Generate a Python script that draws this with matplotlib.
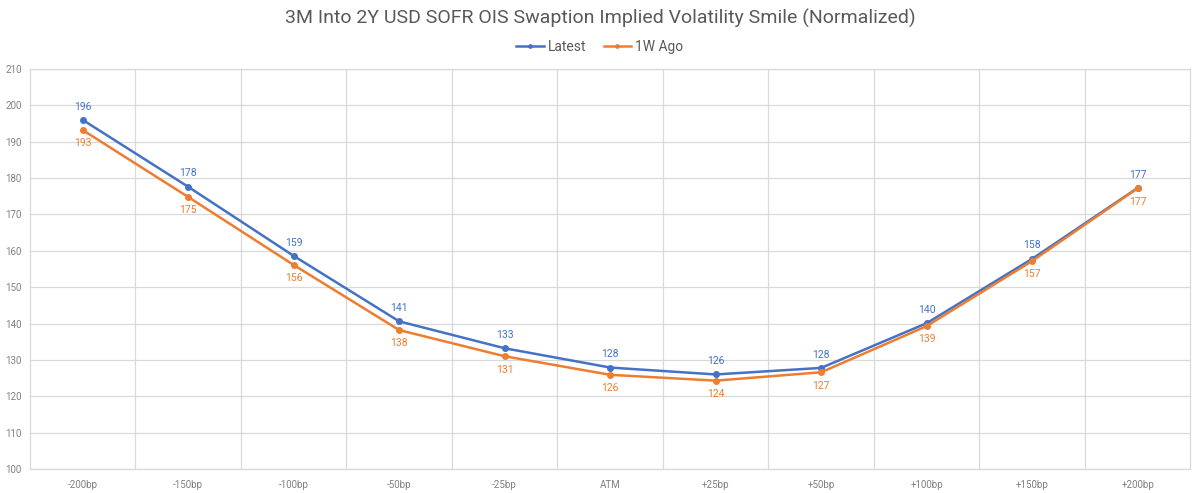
import numpy as np
import matplotlib.pyplot as plt

plt.rcParams['font.family'] = ['Roboto', 'DejaVu Sans']

categories = ['-200bp', '-150bp', '-100bp', '-50bp', '-25bp', 'ATM',
              '+25bp', '+50bp', '+100bp', '+150bp', '+200bp']
latest = [196.0, 177.6, 158.6, 140.6, 133.2, 127.9, 126.0, 127.8, 140.1, 157.8, 177.3]
week_ago = [193.2, 174.8, 156.1, 138.2, 131.0, 125.9, 124.3, 126.6, 139.3, 157.2, 177.2]

blue = '#4472C4'
orange = '#ED7D31'
grid_c = '#D9D9D9'
text_c = '#595959'

fig = plt.figure(figsize=(12, 4.93), dpi=100)
ax = fig.add_axes([0.025, 0.0487, 0.967, 0.8113])

x = np.arange(len(categories))
ax.plot(x, latest, color=blue, lw=1.8, marker='o', ms=4, label='Latest', zorder=3)
ax.plot(x, week_ago, color=orange, lw=1.8, marker='o', ms=4, label='1W Ago', zorder=3)

for xi, a, b in zip(x, latest, week_ago):
    ax.annotate(f'{a:.0f}', (xi, a), xytext=(0, 6), textcoords='offset points',
                ha='center', va='bottom', fontsize=7.5, color=blue)
    ax.annotate(f'{b:.0f}', (xi, b), xytext=(0, -6), textcoords='offset points',
                ha='center', va='top', fontsize=7.5, color=orange)

ax.set_xlim(-0.5, len(categories) - 0.5)
ax.set_ylim(100, 210)
ax.set_yticks(np.arange(100, 211, 10))
ax.set_xticks(x)
ax.set_xticklabels(categories)
ax.set_xticks(np.arange(0.5, len(categories) - 1, 1), minor=True)
ax.grid(axis='y', color=grid_c, lw=0.9)
ax.grid(axis='x', which='minor', color=grid_c, lw=0.9)
ax.tick_params(axis='both', which='both', length=0, labelsize=7, labelcolor='#808080')
ax.tick_params(axis='x', pad=8)
ax.tick_params(axis='y', pad=6)
for s in ax.spines.values():
    s.set_color(grid_c)
    s.set_linewidth(0.9)
ax.set_axisbelow(True)

fig.text(0.5, 0.963, '3M Into 2Y USD SOFR OIS Swaption Implied Volatility Smile (Normalized)',
         ha='center', va='center', fontsize=14, color=text_c)
fig.legend(loc='center', bbox_to_anchor=(0.5, 0.905), ncol=2, frameon=False,
           fontsize=10, labelcolor=text_c, handlelength=2, columnspacing=1.2,
           handletextpad=0.3, markerscale=0.6)

fig.savefig('out.png', dpi=100)
